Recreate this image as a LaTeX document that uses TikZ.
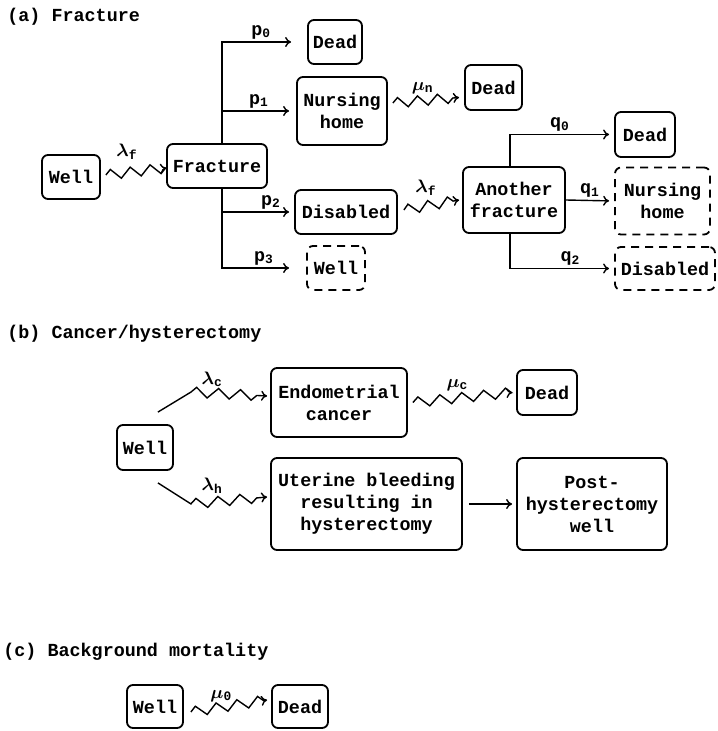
\documentclass[tikz,border=0pt]{standalone}
\usepackage{fontspec}
\setmainfont{Liberation Mono}
\setmonofont{Liberation Mono}
\usepackage{tikz}
\usetikzlibrary{positioning}
\usetikzlibrary{decorations.pathmorphing}
\usetikzlibrary{arrows.meta}

\begin{document}
\begin{tikzpicture}[
    x=0.5pt, y=-0.5pt,
    statebox/.style={draw, rounded corners=3pt, line width=0.9pt, inner sep=1pt, align=center, font=\fontsize{9.2}{11}\selectfont\bfseries},
    newbox/.style={statebox, dash pattern=on 4pt off 3pt},
    heading/.style={anchor=west, inner sep=0pt, font=\fontsize{9.2}{11}\selectfont\bfseries},
    rate/.style={inner sep=1pt, font=\fontsize{9.2}{11}\selectfont\bfseries\boldmath},
    flow/.style={line width=0.7pt, -{To[length=3pt,width=5pt]}},
    hazard/.style={flow, decoration={zigzag, amplitude=2.5pt, segment length=10pt}}
    ]
    \useasboundingbox (0,0) rectangle (717,731);

    %Titles
    \node[heading] (aTitle) at (7,17) {(a) Fracture};
    \node[heading] (bTitle) at (7,334) {(b) Cancer/hysterectomy};
    \node[heading] (cTitle) at (3,652) {(c) Background mortality};

    %Nodes (a)
    \node[statebox, minimum width=29pt, minimum height=22pt] (aWell) at (71,177) {Well};
    \node[statebox, minimum width=50pt, minimum height=22pt] (aFrac) at (217,166) {Fracture};
    \node[statebox, minimum width=27pt, minimum height=22pt] (aDead0) at (335,42) {Dead};
    \node[statebox, minimum width=45pt, minimum height=34pt] (aNurse) at (342,111) {Nursing\\home};
    \node[statebox, minimum width=51pt, minimum height=22pt] (aDis) at (346,212) {Disabled};
    \node[newbox, minimum width=29pt, minimum height=22pt] (aWell2) at (336,268) {Well};
    \node[statebox, minimum width=28.5pt, minimum height=22.5pt] (aDead1) at (493.5,87.5) {Dead};
    \node[statebox, minimum width=51pt, minimum height=33pt] (aAnoth) at (514,200) {Another\\fracture};
    \node[statebox, minimum width=30pt, minimum height=22.5pt] (aDead2) at (645,134.5) {Dead};
    \node[newbox, minimum width=47.5pt, minimum height=33.5pt] (aNurse2) at (662.5,201) {Nursing\\home};
    \node[newbox, minimum width=50pt, minimum height=21.5pt] (aDis2) at (665,268.5) {Disabled};

    \coordinate (aFork) at (222,166);
    \coordinate (aFork2) at (510,200);

    %Lines (a)
    \draw[hazard, decorate] ([xshift=2.5pt,yshift=1pt]aWell.east) -- node[rate, above=5pt, pos=0.35]{$\lambda$\textsubscript{f}} ([yshift=-1pt]aFrac.west);

    \draw[flow, shorten >=8pt] (aFrac.north -| aFork) |- node[rate, above, pos=0.73]{p\textsubscript{0}} (aDead0.west);
    \draw[flow, shorten >=3.5pt] (aFrac.north -| aFork) |- node[rate, above, pos=0.75]{p\textsubscript{1}} (aNurse.west);
    \draw[flow, shorten >=2.5pt] (aFrac.south -| aFork) |- node[rate, above, pos=0.84]{p\textsubscript{2}} (aDis.west);
    \draw[flow, shorten >=8.5pt] (aFrac.south -| aFork) |- node[rate, above, pos=0.75]{p\textsubscript{3}} (aWell2.west);

    \draw[hazard, decorate] ([xshift=2.5pt,yshift=4pt]aNurse.east) -- node[rate, above=2pt, pos=0.45]{$\mu$\textsubscript{n}} ([xshift=-2.5pt,yshift=-5pt]aDead1.west);
    \draw[hazard, decorate] ([xshift=3pt,yshift=1pt]aDis.east) -- node[rate, above=4pt, pos=0.4]{$\lambda$\textsubscript{f}} ([xshift=-1.5pt]aAnoth.west);

    \draw[flow, shorten >=2.5pt] (aAnoth.north -| aFork2) |- node[rate, above, pos=0.74]{q\textsubscript{0}} (aDead2.west);
    \draw[flow, shorten >=2.5pt] (aAnoth.east) -- node[rate, above]{q\textsubscript{1}} (aNurse2.west);
    \draw[flow, shorten >=2.5pt] (aAnoth.south -| aFork2) |- node[rate, above, pos=0.79]{q\textsubscript{2}} (aDis2.west);

    %Nodes (b)
    \node[statebox, minimum width=28pt, minimum height=22.5pt] (bWell) at (145,447.5) {Well};
    \node[statebox, minimum width=68pt, minimum height=34.5pt] (bEndo) at (339,402.5) {Endometrial\\cancer};
    \node[statebox, minimum width=30pt, minimum height=22.5pt] (bDead) at (547,392.5) {Dead};
    \node[statebox, minimum width=95.5pt, minimum height=46pt] (bUter) at (366.5,504) {Uterine bleeding\\resulting in\\hysterectomy};
    \node[statebox, minimum width=75pt, minimum height=46pt] (bPost) at (592,504) {Post-\\hysterectomy\\well};

    %Lines (b)
    \draw[hazard, decoration={segment length=11pt}] ([shift={(-8pt,6pt)}]bWell.north east) -- ++(16.5pt,10pt) coordinate (bKinkC) decorate {-- ([xshift=-1.5pt,yshift=3.25pt]bEndo.west)};
    \path (bKinkC) -- node[rate, above=2pt, pos=0.28]{$\lambda$\textsubscript{c}} ([xshift=-1.5pt,yshift=3.25pt]bEndo.west);
    \draw[hazard, decoration={segment length=11pt}] ([shift={(-8pt,-6pt)}]bWell.south east) -- ++(16.5pt,-10.5pt) coordinate (bKinkH) decorate {-- ([xshift=-1.5pt,yshift=3.5pt]bUter.west)};
    \path (bKinkH) -- node[rate, above=3pt, pos=0.28]{$\lambda$\textsubscript{h}} ([xshift=-1.5pt,yshift=3.5pt]bUter.west);
    \draw[hazard, decorate, decoration={segment length=11pt}] ([xshift=2.5pt]bEndo.east) -- node[rate, above=2pt, pos=0.45]{$\mu$\textsubscript{c}} ([xshift=-2pt]bDead.west);
    \draw[flow] ([xshift=3pt]bUter.east) -- ([xshift=-2pt]bPost.west);

    %Nodes (c)
    \node[statebox, minimum width=28pt, minimum height=21.5pt] (cWell) at (155,706.5) {Well};
    \node[statebox, minimum width=28pt, minimum height=21.5pt] (cDead) at (300,706.5) {Dead};

    %Lines (c)
    \draw[hazard, decorate, decoration={segment length=10.5pt}] ([xshift=3.5pt,yshift=-2.75pt]cWell.east) -- node[rate, above=1.5pt, pos=0.4]{$\mu$\textsubscript{0}} ([xshift=-2pt,yshift=3.25pt]cDead.west);

\end{tikzpicture}
\end{document}
